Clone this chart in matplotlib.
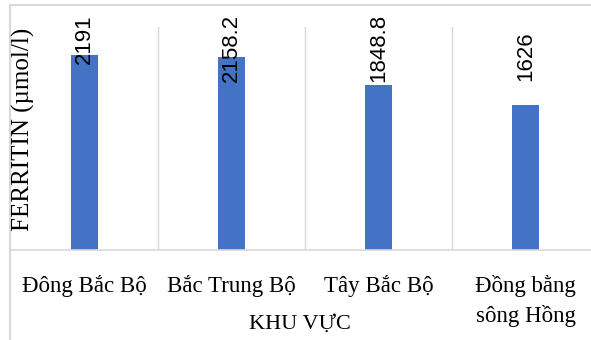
import numpy as np
import matplotlib.pyplot as plt
from matplotlib.lines import Line2D

## === Data === ##

regions = ["Đông Bắc Bộ", "Bắc Trung Bộ", "Tây Bắc Bộ", "Đồng bằng\nsông Hồng"]
ferritin = [2191, 2158.2, 1848.8, 1626]
value_labels = ["2191", "2158.2", "1848.8", "1626"]

## === Figure === ##

W, H = 591, 340
fig = plt.figure(figsize=(W / 100, H / 100), dpi=100)
ax = fig.add_axes([11 / W, 1 - 250 / H, 588 / W, 223 / H])

grid_c = "#d9d9d9"
x = np.arange(len(regions))
ax.bar(x, ferritin, width=0.18, color="#4472C4", zorder=2)
ax.set_xlim(-0.5, len(regions) - 0.5)
ax.set_ylim(0, 2500)

# vertical gridlines between categories
ax.set_xticks(x[:-1] + 0.5, minor=True)
ax.grid(which="minor", axis="x", color=grid_c, linewidth=1, zorder=0)
ax.tick_params(which="both", length=0)
ax.set_yticks([])
ax.set_xticks(x)
ax.set_xticklabels(regions, family="Liberation Serif", fontsize=16.5, linespacing=1.45)
ax.tick_params(axis="x", pad=18)
for s in ["top", "right", "left"]:
    ax.spines[s].set_visible(False)
ax.spines["bottom"].set_color(grid_c)
ax.spines["bottom"].set_linewidth(1.2)

fig.text(300 / W, 1 - 324 / H, "KHU VỰC", family="Liberation Serif",
         fontsize=16, ha="center", va="center")
fig.text(23 / W, 1 - 129 / H, "FERRITIN (µmol/l)", family="Liberation Serif",
         fontsize=18, rotation=90, ha="center", va="center")

# value labels, pushed down when they would run past the top
labels = []
for xi, v, s in zip(x, ferritin, value_labels):
    t = ax.text(xi, v + 270, s, rotation=90, ha="center", va="bottom",
                family="Liberation Sans", fontsize=16, clip_on=False)
    labels.append(t)

fig.canvas.draw()
renderer = fig.canvas.get_renderer()
cap = H - 14
for t in labels:
    bb = t.get_window_extent(renderer)
    if bb.y1 > cap:
        new_bottom = cap - bb.height
        y_new = ax.transData.inverted().transform((0, new_bottom))[1]
        t.set_y(y_new)

# chart frame
fig.add_artist(Line2D([10 / W, 10 / W], [0, 1 - 5 / H], color=grid_c, linewidth=1.5))
fig.add_artist(Line2D([10 / W, 1], [1 - 5 / H, 1 - 5 / H], color=grid_c, linewidth=1.5))

fig.savefig("out.png", dpi=100)
